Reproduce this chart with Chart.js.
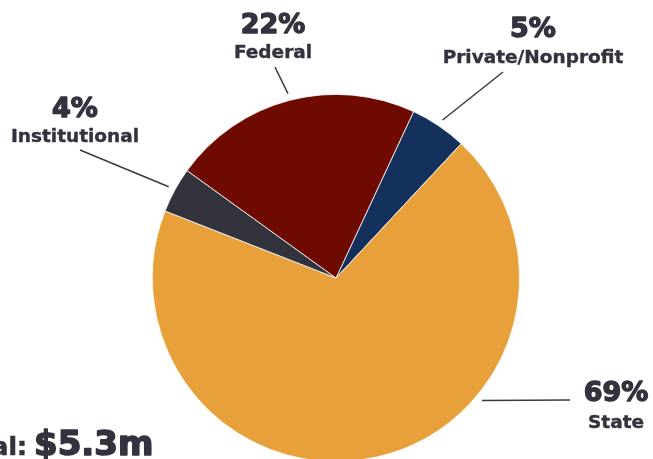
<!DOCTYPE html>
<html>
<head>
<meta charset="utf-8">
<script src="https://cdn.jsdelivr.net/npm/chart.js@4"></script>
<style>
  html, body { margin: 0; padding: 0; background: #fff; overflow: hidden; }
  #wrap { position: relative; width: 653px; height: 480px; }
</style>
</head>
<body>
<div id="wrap"><canvas id="c" width="653" height="480"></canvas></div>
<script>
// ---- data ----
const categories = ["Private/Nonprofit", "State", "Institutional", "Federal"];
const shares = [5, 69, 4, 22];
const sliceColors = ["#14305c", "#e8a13a", "#33333d", "#6e0a00"];
const totalLabel = "Total:";
const totalValue = "$5.3m";

// ---- label layout (styling) ----
const labelLayout = [
  { px: 533, py: 37, ly: 63, ex: 503, ey: 72, angle: null },   // Private
  { px: 616, py: 401, ly: 428, ex: 570, ey: 400, angle: 130 }, // State
  { px: 75, py: 117, ly: 142, ex: 80, ey: 150, angle: null },  // Institutional
  { px: 273, py: 33, ly: 58, ex: 275, ey: 67, angle: null }    // Federal
];

const textColor = "#33323e";
const FONT = "'DejaVu Sans'";

function heavyText(ctx, txt, x, y, w) {
  ctx.lineJoin = "round";
  ctx.lineWidth = w;
  ctx.strokeStyle = textColor;
  ctx.strokeText(txt, x, y);
  ctx.fillText(txt, x, y);
}

const labelPlugin = {
  id: "outLabels",
  afterDraw(chart) {
    const ctx = chart.ctx;
    const meta = chart.getDatasetMeta(0);
    ctx.save();
    meta.data.forEach((arc, i) => {
      const L = labelLayout[i];
      const r = arc.outerRadius + 7;
      let a;
      if (L.angle !== null) {
        a = (L.angle - 90) * Math.PI / 180;
      } else {
        a = (arc.startAngle + arc.endAngle) / 2;
      }
      const sx = arc.x + r * Math.cos(a);
      const sy = arc.y + r * Math.sin(a);
      ctx.strokeStyle = "#3a3a44";
      ctx.lineWidth = 1.5;
      ctx.beginPath();
      ctx.moveTo(sx, sy);
      ctx.lineTo(L.ex, L.ey);
      ctx.stroke();

      ctx.fillStyle = textColor;
      ctx.textAlign = "center";
      ctx.textBaseline = "alphabetic";
      ctx.font = "bold 27px " + FONT;
      heavyText(ctx, shares[i] + "%", L.px, L.py, 1.4);
      ctx.font = "bold 18.5px " + FONT;
      heavyText(ctx, categories[i], L.px, L.ly, 0.4);
    });
    // total
    ctx.textAlign = "right";
    ctx.fillStyle = textColor;
    ctx.font = "bold 25px " + FONT;
    heavyText(ctx, totalLabel, 27, 455, 0.6);
    ctx.textAlign = "left";
    ctx.font = "bold 34px " + FONT;
    heavyText(ctx, totalValue, 34, 455, 1.6);
    ctx.restore();
  }
};

new Chart(document.getElementById("c"), {
  type: "pie",
  data: {
    labels: categories,
    datasets: [{
      data: shares,
      backgroundColor: sliceColors,
      borderColor: "#ffffff",
      borderWidth: 0.8,
      hoverOffset: 0
    }]
  },
  options: {
    responsive: false,
    animation: false,
    rotation: 25,
    layout: { padding: { left: 152, right: 133, top: 94, bottom: 18 } },
    plugins: {
      legend: { display: false },
      tooltip: { enabled: false },
      title: { display: false }
    }
  },
  plugins: [labelPlugin]
});
</script>
</body>
</html>
